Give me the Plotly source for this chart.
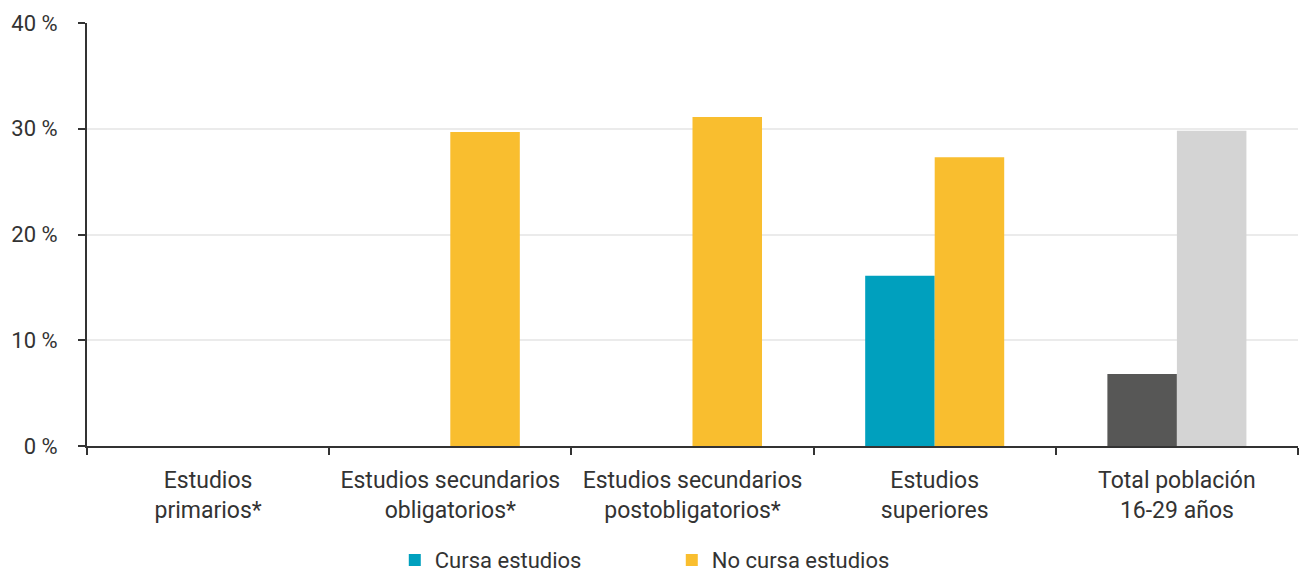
import plotly.graph_objects as go

categories = ["Estudios<br>primarios*", "Estudios secundarios<br>obligatorios*",
              "Estudios secundarios<br>postobligatorios*", "Estudios<br>superiores",
              "Total población<br>16-29 años"]
cursa = [None, None, None, 16.1, 6.8]
no_cursa = [None, 29.7, 31.1, 27.3, 29.8]
y_ticks = [0, 10, 20, 30, 40]

teal = "#00A0BE"
yellow = "#F9BE2F"
dark = "#575756"
light = "#D4D4D4"

fig = go.Figure()
fig.add_trace(go.Bar(x=categories, y=cursa, name="Cursa estudios",
                     marker=dict(color=[teal, teal, teal, teal, dark], line=dict(width=0))))
fig.add_trace(go.Bar(x=categories, y=no_cursa, name="No cursa estudios",
                     marker=dict(color=[yellow, yellow, yellow, yellow, light], line=dict(width=0))))

font_color = "#333333"
fig.update_layout(
    width=1299, height=568,
    margin=dict(l=79, r=9, t=15, b=130, autoexpand=False),
    plot_bgcolor="white", paper_bgcolor="white",
    font=dict(family="Roboto", size=23, color=font_color),
    barmode="group", bargap=0.426, bargroupgap=0,
    showlegend=True,
    legend=dict(orientation="h", xref="container", yref="container",
                x=0.511, xanchor="center", y=0.028, yanchor="middle",
                font=dict(size=22, color=font_color), entrywidth=232, itemwidth=30),
    xaxis=dict(showline=True, linecolor="#333333", linewidth=2, ticks="outside",
               tickson="boundaries", ticklen=7, tickwidth=2, tickcolor="#333333",
               tickfont=dict(size=23, color=font_color), automargin=False,
               ticklabelstandoff=12),
    yaxis=dict(range=[0, 40], tickvals=y_ticks, ticktext=[f"{v} %" for v in y_ticks],
               showline=True, linecolor="#333333", linewidth=2, ticks="outside",
               ticklen=7, tickwidth=2, tickcolor="#333333", showgrid=True,
               gridcolor="#EBEBEB", gridwidth=2, zeroline=False, automargin=False,
               ticklabelstandoff=16,
               tickfont=dict(size=22, color=font_color)),
)
fig.write_html("out.html")
